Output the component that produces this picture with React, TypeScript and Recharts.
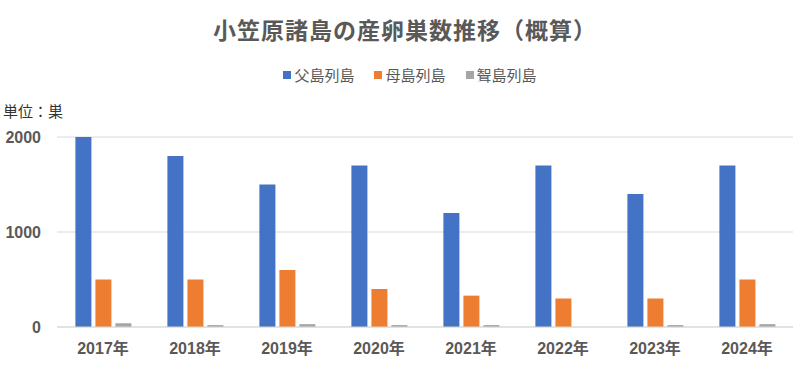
import { BarChart, Bar, XAxis, YAxis, CartesianGrid } from "recharts";

// 年ごとの産卵巣数（概算）
const years = ["2017年", "2018年", "2019年", "2020年", "2021年", "2022年", "2023年", "2024年"];
const chichijima = [2000, 1800, 1500, 1700, 1200, 1700, 1400, 1700];
const hahajima = [500, 500, 600, 400, 330, 300, 300, 500];
const mukojima = [40, 20, 30, 20, 20, 0, 20, 30];
const yTicks = [0, 1000, 2000];

const series = [
  { key: "chichi", name: "父島列島", color: "#4472c4" },
  { key: "haha", name: "母島列島", color: "#ed7d31" },
  { key: "muko", name: "聟島列島", color: "#a5a5a5" },
];

const FONT = '"Liberation Sans", "Noto Sans CJK JP", sans-serif';
const GRAY = "#595959";

const data = years.map((y, i) => ({
  year: y,
  chichi: chichijima[i],
  haha: hahajima[i],
  muko: mukojima[i],
}));

export default function App() {
  return (
    <div style={{ position: "absolute", left: 0, top: 0, width: 810, height: 369, background: "#fff", fontFamily: FONT }}>
      <div
        style={{
          position: "absolute",
          top: 12,
          left: 0,
          width: 810,
          textAlign: "center",
          fontSize: 23,
          fontWeight: "bold",
          color: GRAY,
          letterSpacing: 1,
        }}
      >
        小笠原諸島の産卵巣数推移（概算）
      </div>
      {/* 凡例 */}
      <div
        style={{
          position: "absolute",
          top: 64,
          left: 0,
          width: 820,
          display: "flex",
          justifyContent: "center",
          gap: 20,
          fontSize: 15,
          color: GRAY,
        }}
      >
        {series.map((s) => (
          <span key={s.key} style={{ display: "flex", alignItems: "center", gap: 3 }}>
            <span style={{ width: 8, height: 8, background: s.color, display: "inline-block" }} />
            {s.name}
          </span>
        ))}
      </div>
      <div style={{ position: "absolute", top: 100, left: 3, fontSize: 15, color: "#333" }}>単位：巣</div>
      <div style={{ position: "absolute", top: 0, left: 0 }}>
        <BarChart
          width={810}
          height={369}
          data={data}
          margin={{ top: 137, right: 17, bottom: 9, left: 0 }}
          barCategoryGap="20%"
          barGap={4}
        >
          <CartesianGrid vertical={false} stroke="#d9d9d9" />
          <XAxis
            dataKey="year"
            axisLine={{ stroke: "#d9d9d9" }}
            tickLine={false}
            height={33}
            tick={{ fill: GRAY, fontSize: 16, fontWeight: "bold", fontFamily: FONT }}
            tickMargin={10}
          />
          <YAxis
            domain={[0, 2000]}
            ticks={yTicks}
            axisLine={false}
            tickLine={false}
            width={57}
            tick={{ fill: GRAY, fontSize: 16, fontWeight: "bold", fontFamily: FONT }}
            tickMargin={10}
          />
          {series.map((s) => (
            <Bar key={s.key} dataKey={s.key} name={s.name} fill={s.color} isAnimationActive={false} />
          ))}
        </BarChart>
      </div>
    </div>
  );
}
